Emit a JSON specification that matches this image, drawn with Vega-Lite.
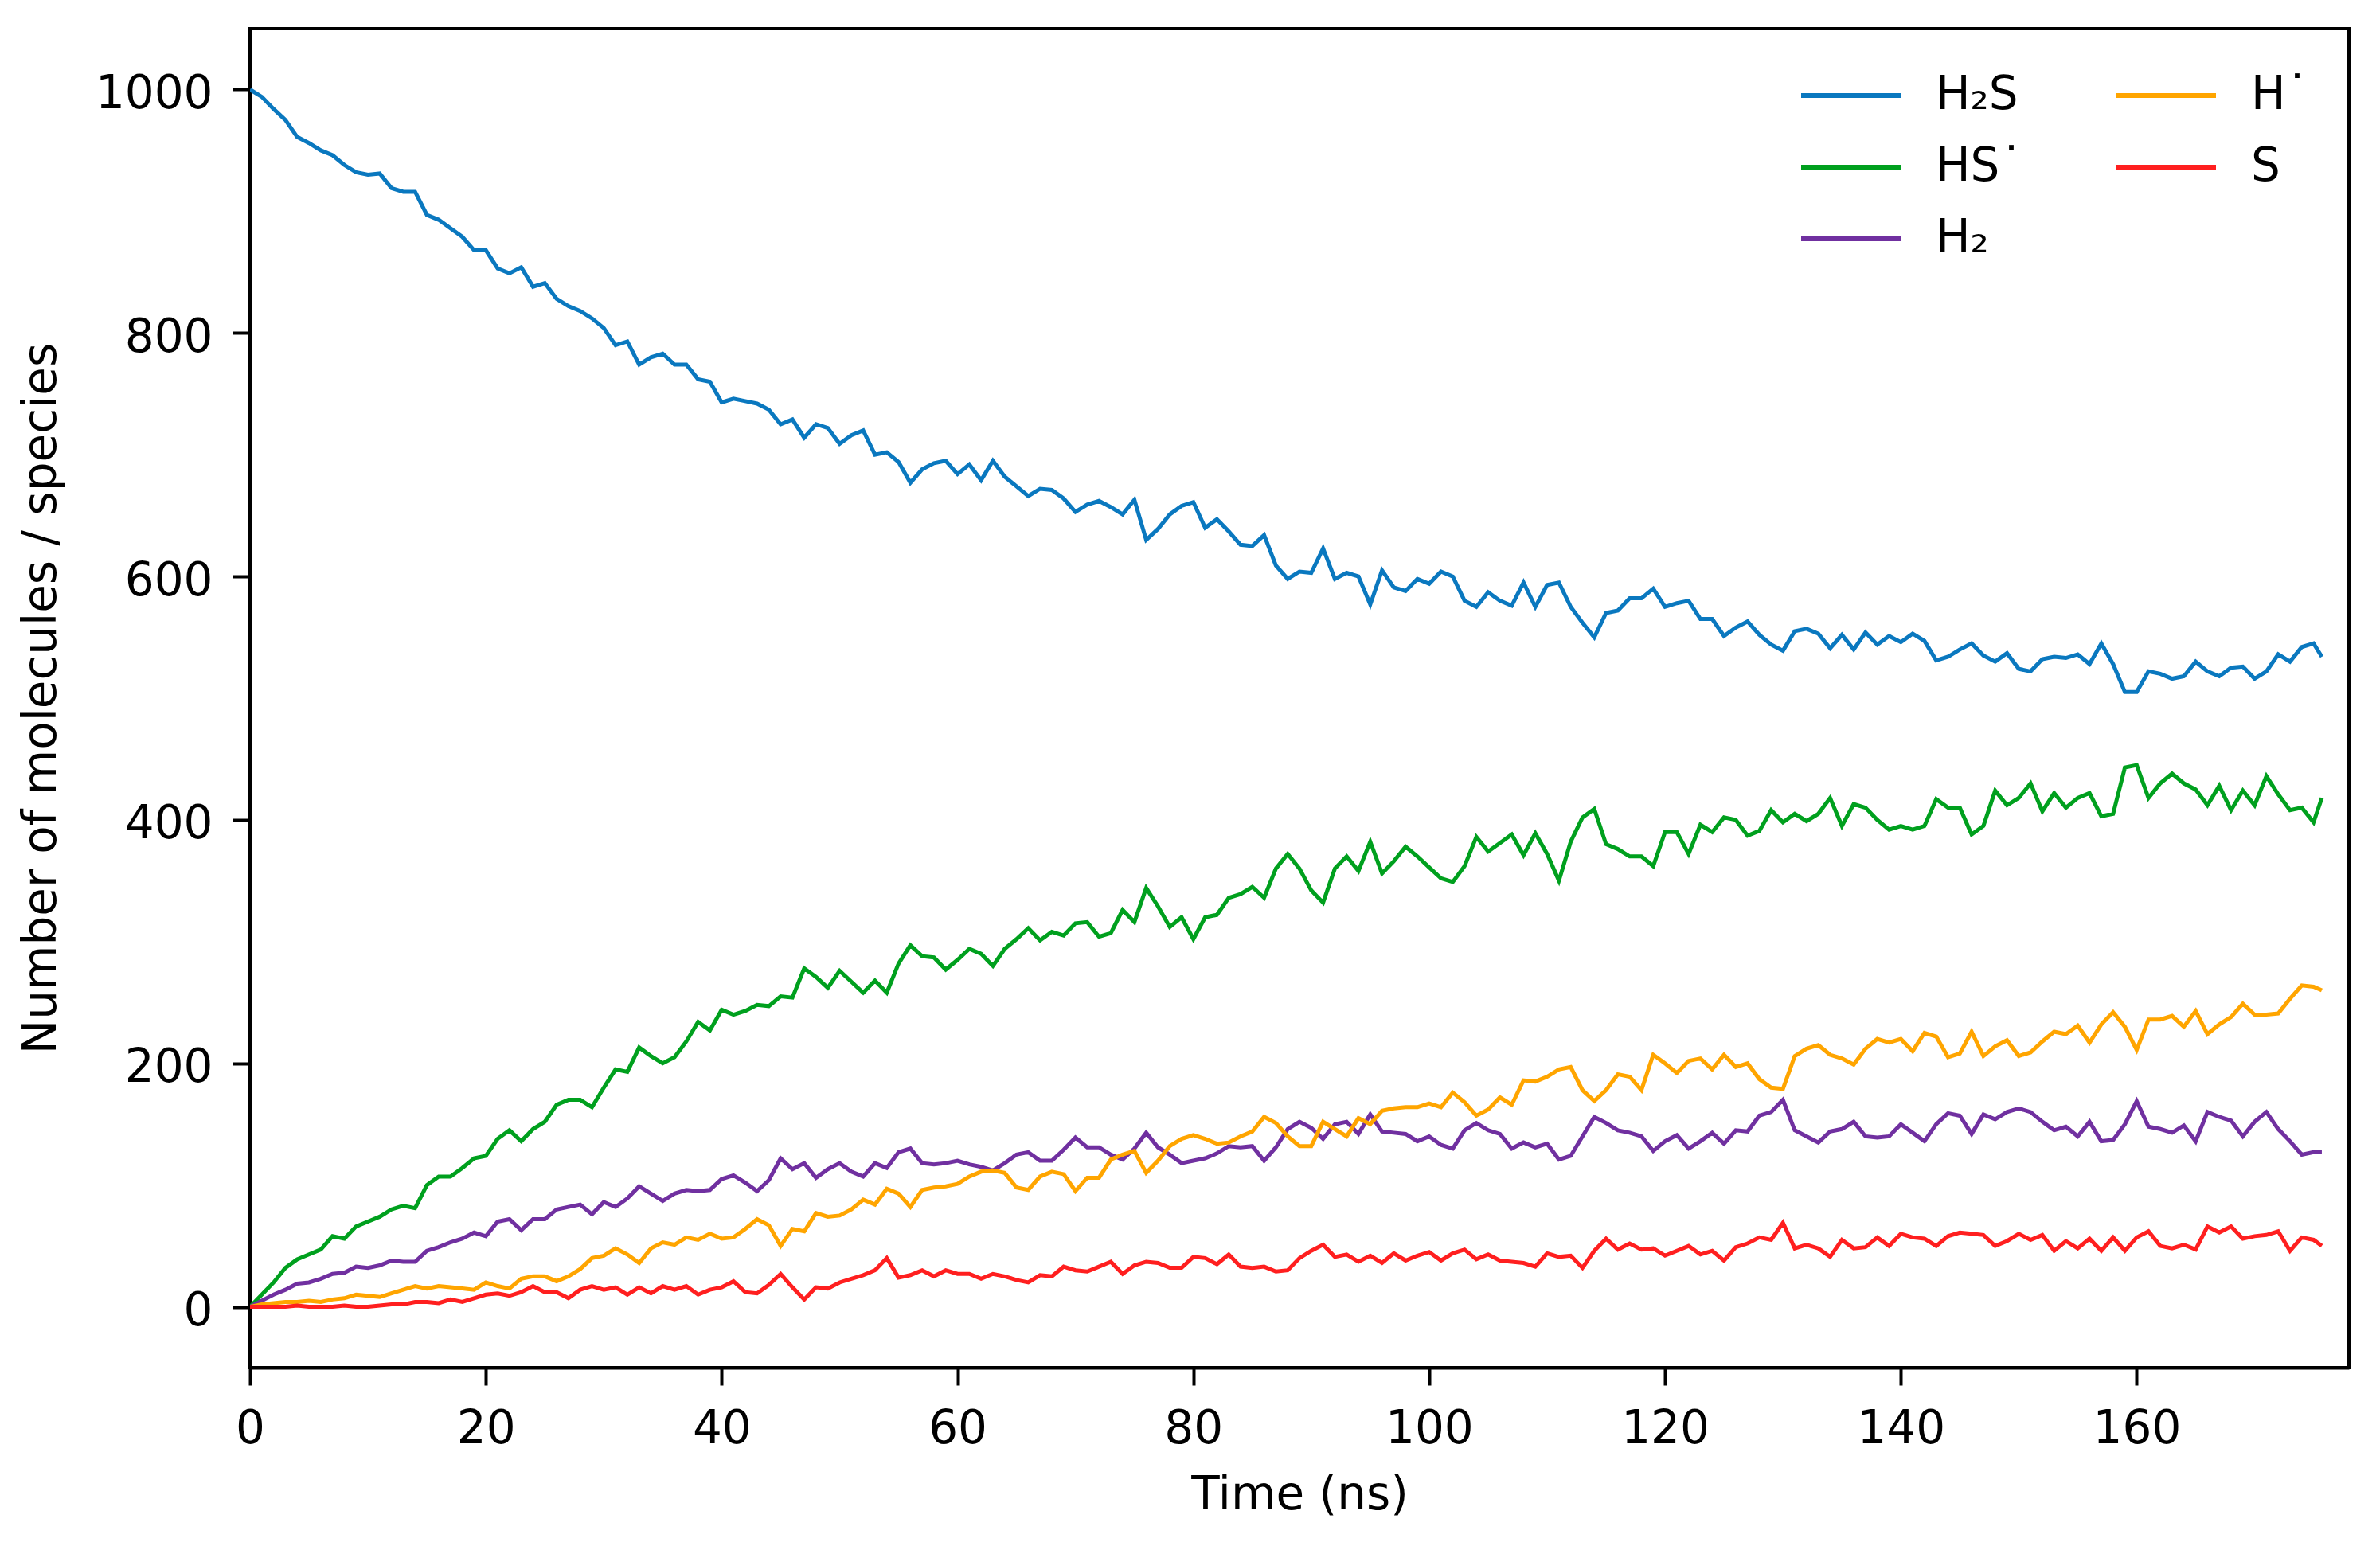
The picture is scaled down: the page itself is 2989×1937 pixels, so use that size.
{
"$schema":"https://vega.github.io/schema/vega-lite/v6.json",
"width":2636,"height":1682,
"autosize":{"type":"none"},
"padding":{"left":314,"top":36,"right":39,"bottom":219},
"background":"white",
"config":{
 "font":"DejaVu Sans",
 "view":{"stroke":"black","strokeWidth":4},
 "axis":{"grid":false,"domainColor":"black","domainWidth":4,"tickColor":"black","tickWidth":4,"tickSize":22,"labelFont":"DejaVu Sans","labelFontSize":58,"labelColor":"black","titleFont":"DejaVu Sans","titleFontSize":58,"titleFontWeight":"normal","titleColor":"black"}
},
"data":{"values":[
{"t":0,"a":1000,"b":0,"c":0,"d":0,"e":0},
{"t":1,"a":994,"b":10,"c":5,"d":2,"e":0},
{"t":2,"a":984,"b":20,"c":10,"d":3,"e":0},
{"t":3,"a":975,"b":32,"c":14,"d":4,"e":0},
{"t":4,"a":961,"b":39,"c":19,"d":4,"e":1},
{"t":5,"a":956,"b":43,"c":20,"d":5,"e":0},
{"t":6,"a":950,"b":47,"c":23,"d":4,"e":0},
{"t":7,"a":946,"b":58,"c":27,"d":6,"e":0},
{"t":8,"a":938,"b":56,"c":28,"d":7,"e":1},
{"t":9,"a":932,"b":66,"c":33,"d":10,"e":0},
{"t":10,"a":930,"b":70,"c":32,"d":9,"e":0},
{"t":11,"a":931,"b":74,"c":34,"d":8,"e":1},
{"t":12,"a":919,"b":80,"c":38,"d":11,"e":2},
{"t":13,"a":916,"b":83,"c":37,"d":14,"e":2},
{"t":14,"a":916,"b":81,"c":37,"d":17,"e":4},
{"t":15,"a":897,"b":100,"c":46,"d":15,"e":4},
{"t":16,"a":893,"b":107,"c":49,"d":17,"e":3},
{"t":17,"a":886,"b":107,"c":53,"d":16,"e":6},
{"t":18,"a":879,"b":114,"c":56,"d":15,"e":4},
{"t":19,"a":868,"b":122,"c":61,"d":14,"e":7},
{"t":20,"a":868,"b":124,"c":58,"d":20,"e":10},
{"t":21,"a":853,"b":138,"c":70,"d":17,"e":11},
{"t":22,"a":849,"b":145,"c":72,"d":15,"e":9},
{"t":23,"a":854,"b":136,"c":63,"d":23,"e":12},
{"t":24,"a":838,"b":146,"c":72,"d":25,"e":17},
{"t":25,"a":841,"b":152,"c":72,"d":25,"e":12},
{"t":26,"a":828,"b":166,"c":80,"d":21,"e":12},
{"t":27,"a":822,"b":170,"c":82,"d":25,"e":7},
{"t":28,"a":818,"b":170,"c":84,"d":31,"e":14},
{"t":29,"a":812,"b":164,"c":76,"d":40,"e":17},
{"t":30,"a":804,"b":180,"c":86,"d":42,"e":14},
{"t":31,"a":790,"b":195,"c":82,"d":48,"e":16},
{"t":32,"a":793,"b":193,"c":89,"d":43,"e":10},
{"t":33,"a":774,"b":213,"c":99,"d":36,"e":16},
{"t":34,"a":780,"b":206,"c":93,"d":48,"e":11},
{"t":35,"a":783,"b":200,"c":87,"d":53,"e":17},
{"t":36,"a":774,"b":205,"c":93,"d":51,"e":14},
{"t":37,"a":774,"b":218,"c":96,"d":57,"e":17},
{"t":38,"a":762,"b":234,"c":95,"d":55,"e":10},
{"t":39,"a":760,"b":227,"c":96,"d":60,"e":14},
{"t":40,"a":743,"b":244,"c":105,"d":56,"e":16},
{"t":41,"a":746,"b":240,"c":108,"d":57,"e":21},
{"t":42,"a":744,"b":243,"c":102,"d":64,"e":12},
{"t":43,"a":742,"b":248,"c":95,"d":72,"e":11},
{"t":44,"a":737,"b":247,"c":104,"d":67,"e":18},
{"t":45,"a":725,"b":255,"c":122,"d":50,"e":27},
{"t":46,"a":729,"b":254,"c":113,"d":64,"e":16},
{"t":47,"a":714,"b":278,"c":118,"d":62,"e":6},
{"t":48,"a":725,"b":271,"c":106,"d":77,"e":16},
{"t":49,"a":722,"b":262,"c":113,"d":74,"e":15},
{"t":50,"a":709,"b":276,"c":118,"d":75,"e":20},
{"t":51,"a":716,"b":267,"c":111,"d":80,"e":23},
{"t":52,"a":720,"b":258,"c":107,"d":88,"e":26},
{"t":53,"a":700,"b":268,"c":118,"d":84,"e":30},
{"t":54,"a":702,"b":258,"c":114,"d":97,"e":40},
{"t":55,"a":694,"b":282,"c":127,"d":93,"e":24},
{"t":56,"a":677,"b":297,"c":130,"d":82,"e":26},
{"t":57,"a":688,"b":288,"c":118,"d":96,"e":30},
{"t":58,"a":693,"b":287,"c":117,"d":98,"e":25},
{"t":59,"a":695,"b":277,"c":118,"d":99,"e":30},
{"t":60,"a":684,"b":285,"c":120,"d":101,"e":27},
{"t":61,"a":692,"b":294,"c":117,"d":107,"e":27},
{"t":62,"a":679,"b":290,"c":115,"d":111,"e":23},
{"t":63,"a":695,"b":280,"c":112,"d":112,"e":27},
{"t":64,"a":682,"b":294,"c":118,"d":110,"e":25},
{"t":65,"a":674,"b":302,"c":125,"d":98,"e":22},
{"t":66,"a":666,"b":311,"c":127,"d":96,"e":20},
{"t":67,"a":672,"b":301,"c":120,"d":107,"e":26},
{"t":68,"a":671,"b":308,"c":120,"d":111,"e":25},
{"t":69,"a":664,"b":305,"c":129,"d":109,"e":33},
{"t":70,"a":653,"b":315,"c":139,"d":95,"e":30},
{"t":71,"a":659,"b":316,"c":131,"d":106,"e":29},
{"t":72,"a":662,"b":304,"c":131,"d":106,"e":33},
{"t":73,"a":657,"b":307,"c":125,"d":121,"e":37},
{"t":74,"a":651,"b":326,"c":121,"d":125,"e":27},
{"t":75,"a":663,"b":316,"c":130,"d":128,"e":34},
{"t":76,"a":630,"b":344,"c":143,"d":110,"e":37},
{"t":77,"a":639,"b":329,"c":131,"d":120,"e":36},
{"t":78,"a":651,"b":312,"c":125,"d":132,"e":32},
{"t":79,"a":658,"b":320,"c":118,"d":138,"e":32},
{"t":80,"a":661,"b":302,"c":120,"d":141,"e":41},
{"t":81,"a":640,"b":320,"c":122,"d":138,"e":40},
{"t":82,"a":647,"b":322,"c":126,"d":134,"e":35},
{"t":83,"a":637,"b":336,"c":132,"d":135,"e":43},
{"t":84,"a":626,"b":339,"c":131,"d":140,"e":33},
{"t":85,"a":625,"b":345,"c":132,"d":144,"e":32},
{"t":86,"a":634,"b":336,"c":120,"d":156,"e":33},
{"t":87,"a":609,"b":360,"c":131,"d":151,"e":29},
{"t":88,"a":598,"b":372,"c":146,"d":140,"e":30},
{"t":89,"a":604,"b":360,"c":152,"d":132,"e":40},
{"t":90,"a":603,"b":342,"c":147,"d":132,"e":46},
{"t":91,"a":623,"b":332,"c":138,"d":152,"e":51},
{"t":92,"a":598,"b":360,"c":150,"d":146,"e":41},
{"t":93,"a":603,"b":370,"c":152,"d":140,"e":43},
{"t":94,"a":600,"b":358,"c":142,"d":155,"e":37},
{"t":95,"a":577,"b":382,"c":158,"d":150,"e":42},
{"t":96,"a":605,"b":356,"c":144,"d":161,"e":36},
{"t":97,"a":591,"b":366,"c":143,"d":163,"e":44},
{"t":98,"a":588,"b":378,"c":142,"d":164,"e":38},
{"t":99,"a":598,"b":370,"c":136,"d":164,"e":42},
{"t":100,"a":594,"b":361,"c":140,"d":167,"e":45},
{"t":101,"a":604,"b":352,"c":133,"d":164,"e":38},
{"t":102,"a":600,"b":349,"c":130,"d":176,"e":44},
{"t":103,"a":580,"b":362,"c":145,"d":168,"e":47},
{"t":104,"a":575,"b":386,"c":151,"d":157,"e":39},
{"t":105,"a":587,"b":374,"c":145,"d":162,"e":43},
{"t":106,"a":580,"b":381,"c":142,"d":172,"e":38},
{"t":107,"a":576,"b":388,"c":130,"d":166,"e":37},
{"t":108,"a":595,"b":371,"c":135,"d":186,"e":36},
{"t":109,"a":575,"b":389,"c":131,"d":185,"e":33},
{"t":110,"a":593,"b":372,"c":134,"d":189,"e":44},
{"t":111,"a":595,"b":350,"c":121,"d":195,"e":41},
{"t":112,"a":575,"b":382,"c":124,"d":197,"e":42},
{"t":113,"a":562,"b":402,"c":140,"d":178,"e":32},
{"t":114,"a":550,"b":409,"c":156,"d":169,"e":46},
{"t":115,"a":570,"b":380,"c":151,"d":178,"e":56},
{"t":116,"a":572,"b":376,"c":145,"d":191,"e":47},
{"t":117,"a":582,"b":370,"c":143,"d":189,"e":52},
{"t":118,"a":582,"b":370,"c":140,"d":178,"e":47},
{"t":119,"a":590,"b":362,"c":128,"d":207,"e":48},
{"t":120,"a":575,"b":390,"c":136,"d":200,"e":42},
{"t":121,"a":578,"b":390,"c":141,"d":192,"e":46},
{"t":122,"a":580,"b":372,"c":130,"d":202,"e":50},
{"t":123,"a":565,"b":396,"c":136,"d":204,"e":43},
{"t":124,"a":565,"b":390,"c":143,"d":195,"e":46},
{"t":125,"a":551,"b":402,"c":134,"d":207,"e":38},
{"t":126,"a":558,"b":400,"c":145,"d":197,"e":49},
{"t":127,"a":563,"b":387,"c":144,"d":200,"e":52},
{"t":128,"a":552,"b":391,"c":157,"d":187,"e":57},
{"t":129,"a":544,"b":408,"c":160,"d":180,"e":55},
{"t":130,"a":539,"b":398,"c":170,"d":179,"e":69},
{"t":131,"a":555,"b":405,"c":145,"d":206,"e":48},
{"t":132,"a":557,"b":399,"c":140,"d":212,"e":51},
{"t":133,"a":553,"b":405,"c":135,"d":215,"e":48},
{"t":134,"a":541,"b":418,"c":144,"d":207,"e":41},
{"t":135,"a":552,"b":395,"c":146,"d":204,"e":55},
{"t":136,"a":540,"b":413,"c":152,"d":199,"e":48},
{"t":137,"a":554,"b":410,"c":140,"d":212,"e":49},
{"t":138,"a":544,"b":400,"c":139,"d":220,"e":57},
{"t":139,"a":551,"b":392,"c":140,"d":217,"e":50},
{"t":140,"a":546,"b":395,"c":150,"d":220,"e":60},
{"t":141,"a":553,"b":392,"c":143,"d":210,"e":57},
{"t":142,"a":547,"b":395,"c":136,"d":225,"e":56},
{"t":143,"a":531,"b":417,"c":150,"d":222,"e":50},
{"t":144,"a":534,"b":410,"c":159,"d":205,"e":58},
{"t":145,"a":540,"b":410,"c":157,"d":208,"e":61},
{"t":146,"a":545,"b":388,"c":142,"d":226,"e":60},
{"t":147,"a":535,"b":395,"c":158,"d":206,"e":59},
{"t":148,"a":530,"b":424,"c":154,"d":214,"e":50},
{"t":149,"a":537,"b":412,"c":160,"d":219,"e":54},
{"t":150,"a":524,"b":418,"c":163,"d":206,"e":60},
{"t":151,"a":522,"b":430,"c":160,"d":209,"e":55},
{"t":152,"a":532,"b":407,"c":152,"d":218,"e":59},
{"t":153,"a":534,"b":422,"c":145,"d":226,"e":46},
{"t":154,"a":533,"b":410,"c":148,"d":224,"e":54},
{"t":155,"a":536,"b":418,"c":140,"d":231,"e":48},
{"t":156,"a":528,"b":422,"c":152,"d":217,"e":56},
{"t":157,"a":545,"b":403,"c":136,"d":232,"e":46},
{"t":158,"a":528,"b":405,"c":137,"d":242,"e":57},
{"t":159,"a":505,"b":443,"c":150,"d":230,"e":46},
{"t":160,"a":505,"b":445,"c":169,"d":211,"e":57},
{"t":161,"a":522,"b":418,"c":148,"d":236,"e":62},
{"t":162,"a":520,"b":430,"c":146,"d":236,"e":50},
{"t":163,"a":516,"b":438,"c":143,"d":239,"e":48},
{"t":164,"a":518,"b":430,"c":149,"d":230,"e":51},
{"t":165,"a":530,"b":425,"c":136,"d":243,"e":47},
{"t":166,"a":522,"b":412,"c":160,"d":224,"e":66},
{"t":167,"a":518,"b":428,"c":156,"d":232,"e":61},
{"t":168,"a":525,"b":408,"c":153,"d":238,"e":66},
{"t":169,"a":526,"b":424,"c":140,"d":249,"e":56},
{"t":170,"a":516,"b":412,"c":152,"d":240,"e":58},
{"t":171,"a":522,"b":436,"c":160,"d":240,"e":59},
{"t":172,"a":536,"b":421,"c":146,"d":241,"e":62},
{"t":173,"a":530,"b":408,"c":136,"d":253,"e":46},
{"t":174,"a":542,"b":410,"c":125,"d":264,"e":57},
{"t":175,"a":545,"b":398,"c":127,"d":263,"e":55},
{"t":175.7,"a":534,"b":418,"c":127,"d":260,"e":50}
]},
"transform":[{"fold":["a","b","c","d","e"],"as":["k","v"]}],
"mark":{"type":"line","strokeWidth":5,"clip":true},
"encoding":{
 "x":{"field":"t","type":"quantitative","scale":{"domain":[0,178],"nice":false,"zero":false},
      "axis":{"title":"Time (ns)","values":[0,20,40,60,80,100,120,140,160],"labelFlush":false,"labelPadding":26,"titlePadding":25}},
 "y":{"field":"v","type":"quantitative","scale":{"domain":[-50,1050],"nice":false,"zero":false},
      "axis":{"title":"Number of molecules / species","values":[0,200,400,600,800,1000],"format":"d","labelPadding":25,"labelOffset":6,"titlePadding":38}},
 "color":{"field":"k","type":"nominal",
   "scale":{"domain":["a","b","c","d","e"],"range":["#0a78bf","#00a01e","#7030a0","#ffa500","#ff1f1f"]},
   "legend":{"title":null,"orient":"none","legendX":1945,"legendY":54,"columns":2,"columnPadding":114,"rowPadding":30,"padding":0,"clipHeight":60,
     "symbolType":"stroke","symbolSize":15625,"symbolStrokeWidth":6,
     "labelFont":"DejaVu Sans","labelFontSize":58,"labelColor":"black","labelOffset":41,
     "labelExpr":"datum.value=='a'?'H₂S':datum.value=='b'?'HS˙':datum.value=='c'?'H₂':datum.value=='d'?'H˙':'S'"}}
}
}
